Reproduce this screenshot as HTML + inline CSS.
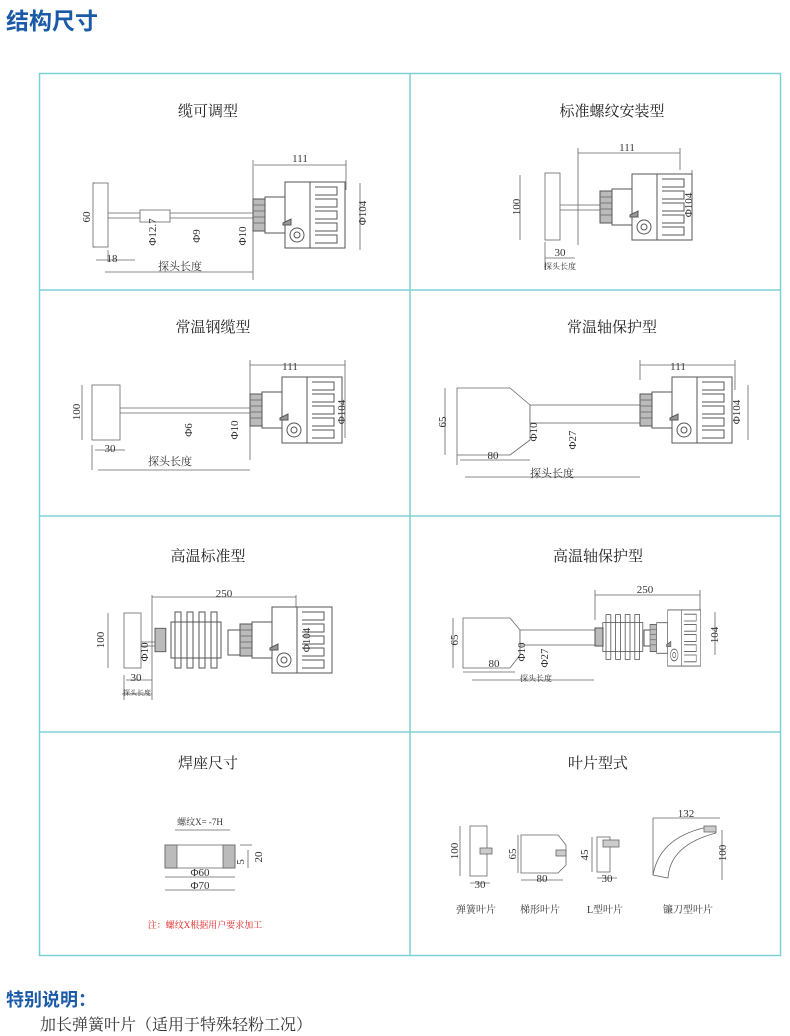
<!DOCTYPE html>
<html><head><meta charset="utf-8"><style>
body{margin:0;background:#fff;width:790px;height:1036px;overflow:hidden;font-family:"Liberation Serif","Noto Serif CJK SC",serif}
svg{position:absolute;left:0;top:0}
.h{position:absolute;font-family:"Liberation Sans","Noto Sans CJK SC",sans-serif;color:#1a5aa6;font-weight:bold}
</style></head><body>
<div class="h" style="left:6px;top:2px;font-size:23px">结构尺寸</div>
<div class="h" style="left:6px;top:986px;font-size:18px">特别说明：</div>
<div style="position:absolute;left:40px;top:1012px;font-size:16px;color:#333;font-family:'Liberation Serif','Noto Serif CJK SC',serif">加长弹簧叶片（适用于特殊轻粉工况）</div>
<svg width="790" height="1036" viewBox="0 0 790 1036">
<defs>
<g id="hs" fill="#fff" stroke="#555" stroke-width="1">
<rect x="0" y="-16" width="12" height="32" fill="#bbb"/>
<path d="M0 -10H12M0 -4H12M0 2H12M0 8H12" stroke="#777"/>
<rect x="12" y="-18" width="20" height="36"/>
<rect x="32" y="-33" width="25" height="66"/>
<rect x="57" y="-33" width="35" height="66"/>
<path d="M62 -28h22v8h-22M62 -16h22v8h-22M62 -4h22v8h-22M62 8h22v8h-22M62 20h22v8h-22" fill="none"/>
<circle cx="44" cy="20" r="7"/><circle cx="44" cy="20" r="3"/>
<path d="M30 8l8 -4v6h-8z" fill="#999"/>
</g>
<g id="fin" fill="#fff" stroke="#555">
<rect x="0" y="-28" width="6" height="56"/><rect x="12" y="-28" width="6" height="56"/><rect x="24" y="-28" width="6" height="56"/><rect x="36" y="-28" width="6" height="56"/>
<rect x="-4" y="-18" width="50" height="36" fill="none"/>
</g>
</defs>
<g fill="none" stroke="#7fd0d6" stroke-width="1.5">
<rect x="39.5" y="73.5" width="741" height="882"/>
<path d="M410 73V955M39 290H781M39 516H781M39 732H781"/>
</g>
<g font-size="15" fill="#222" text-anchor="middle" font-family="'Liberation Serif','Noto Serif CJK SC',serif">
<text x="208" y="116">缆可调型</text><text x="612" y="116">标准螺纹安装型</text>
<text x="213" y="332">常温钢缆型</text><text x="612" y="332">常温轴保护型</text>
<text x="208" y="561">高温标准型</text><text x="598" y="561">高温轴保护型</text>
<text x="208" y="768">焊座尺寸</text><text x="598" y="768">叶片型式</text>
</g>
<g stroke="#666" fill="none" stroke-width="0.8">
<rect x="93" y="183" width="15" height="64" fill="#fff"/>
<path d="M108 213H253M108 218H253"/>
<rect x="140" y="210" width="30" height="12" fill="#fff"/>
<path d="M93 183H95M93 247H95M253 160V280M346 160V190M254 165H346M360 183V250M96 260H135M108 250V262M105 272H253"/>
<rect x="545" y="173" width="15" height="67" fill="#fff"/>
<path d="M560 205H600M560 210H600M578 148V245M680 148V170M578 153H680M692 170V240M545 242V270M545 258H575M520 175V240"/>
<rect x="92" y="385" width="28" height="55" fill="#fff"/>
<path d="M120 408H250M120 413H250M82 385V440M250 360V460M345 360V390M250 365H345M345 383V438M92 445V470M95 450H125M98 470H250"/>
<path d="M457 388H510L530 405V440L510 455H457Z" fill="#fff"/>
<rect x="530" y="405" width="110" height="18" fill="#fff"/>
<path d="M445 388V455M640 360V380M735 360V390M640 365H735M748 385V440M457 455V465M460 460H530M465 477H640"/>
<rect x="124" y="613" width="17" height="55" fill="#fff"/>
<path d="M141 642H155M141 646H155M152 595V700M296 595V620M152 597H296M310 612V668M108 613V668M124 675V700M126 680H152M122 694H152"/>
<path d="M463 618H510L520 630V655L510 668H463Z" fill="#fff"/>
<rect x="520" y="630" width="80" height="15" fill="#fff"/>
<path d="M453 618V668M595 590V620M700 590V612M595 595H700M715 612V655M463 672H515M472 680H594"/>
<path d="M165 845H235V868H165Z" fill="#fff"/>
<rect x="165" y="845" width="12" height="23" fill="#bbb"/><rect x="223" y="845" width="12" height="23" fill="#bbb"/>
<path d="M175 830H230M165 877H235M165 890H235M248 850V868M240 845H252"/>
<rect x="470" y="826" width="17" height="50" fill="#fff"/><rect x="480" y="848" width="12" height="6" fill="#ccc"/>
<path d="M460 826V876M470 883H490"/>
<path d="M521 835H558L566 845V865L558 873H521Z" fill="#fff"/><rect x="556" y="850" width="10" height="6" fill="#ccc"/>
<path d="M518 835V873M521 880H563"/>
<rect x="597" y="837" width="13" height="35" fill="#fff"/><rect x="603" y="840" width="16" height="7" fill="#ccc"/>
<path d="M592 837V872M597 878H617"/>
<path d="M653 875Q660 835 713 826L716 833Q670 845 668 878Z" fill="#fff"/><rect x="704" y="826" width="12" height="6" fill="#ccc"/>
<path d="M653 818H720M653 818V875M722 830V880"/>
</g>
<use href="#hs" x="253" y="215"/>
<use href="#hs" x="600" y="207"/>
<use href="#hs" x="250" y="410"/>
<use href="#hs" x="640" y="410"/>
<g transform="translate(155,640) scale(0.9)"><rect x="0" y="-13" width="12" height="26" fill="#bbb" stroke="#555"/></g>
<use href="#fin" x="175" y="640"/>
<rect x="228" y="630" width="12" height="25" fill="#fff" stroke="#555"/>
<g transform="translate(210,640)"><use href="#hs" x="30" y="0"/></g>
<rect x="595" y="628" width="8" height="18" fill="#bbb" stroke="#555"/>
<g transform="translate(606,637) scale(0.8)"><use href="#fin" x="0" y="0"/></g>
<rect x="644" y="630" width="10" height="16" fill="#fff" stroke="#555"/>
<g transform="translate(650,638) scale(0.55,0.85)"><use href="#hs" x="0" y="0"/></g>
<g font-size="11" fill="#333" text-anchor="middle" font-family="'Liberation Serif','Noto Serif CJK SC',serif">
<text x="300" y="162">111</text><text x="112" y="262">18</text><text x="180" y="270">探头长度</text>
<text x="90" y="217" transform="rotate(-90 90 217)">60</text>
<text x="366" y="213" transform="rotate(-90 366 213)">Φ104</text>
<text x="156" y="232" transform="rotate(-90 156 232)">Φ12.7</text>
<text x="200" y="236" transform="rotate(-90 200 236)">Φ9</text>
<text x="246" y="236" transform="rotate(-90 246 236)">Φ10</text>
<text x="627" y="151">111</text><text x="560" y="256">30</text><text x="560" y="269" font-size="8">探头长度</text>
<text x="520" y="207" transform="rotate(-90 520 207)">100</text><text x="692" y="205" transform="rotate(-90 692 205)">Φ104</text>
<text x="290" y="370">111</text><text x="110" y="452">30</text><text x="170" y="465">探头长度</text>
<text x="80" y="412" transform="rotate(-90 80 412)">100</text><text x="345" y="412" transform="rotate(-90 345 412)">Φ104</text>
<text x="192" y="430" transform="rotate(-90 192 430)">Φ6</text><text x="238" y="430" transform="rotate(-90 238 430)">Φ10</text>
<text x="678" y="370">111</text><text x="493" y="459">80</text><text x="552" y="477">探头长度</text>
<text x="446" y="422" transform="rotate(-90 446 422)">65</text><text x="740" y="412" transform="rotate(-90 740 412)">Φ104</text>
<text x="537" y="432" transform="rotate(-90 537 432)">Φ10</text><text x="576" y="440" transform="rotate(-90 576 440)">Φ27</text>
<text x="224" y="597">250</text><text x="136" y="681">30</text><text x="137" y="695" font-size="7">探头长度</text>
<text x="104" y="640" transform="rotate(-90 104 640)">100</text><text x="310" y="640" transform="rotate(-90 310 640)">Φ104</text>
<text x="148" y="652" transform="rotate(-90 148 652)">Φ10</text>
<text x="645" y="593">250</text><text x="494" y="667">80</text><text x="536" y="681" font-size="8">探头长度</text>
<text x="458" y="640" transform="rotate(-90 458 640)">65</text><text x="718" y="635" transform="rotate(-90 718 635)">104</text>
<text x="525" y="652" transform="rotate(-90 525 652)">Φ10</text><text x="548" y="658" transform="rotate(-90 548 658)">Φ27</text>
<text x="200" y="825" font-size="9">螺纹X=   -7H</text>
<text x="200" y="876">Φ60</text><text x="200" y="889">Φ70</text>
<text x="244" y="862" transform="rotate(-90 244 862)">5</text><text x="262" y="857" transform="rotate(-90 262 857)">20</text>
<text x="205" y="928" font-size="9" fill="#e02020">注：螺纹X根据用户要求加工</text>
<text x="458" y="851" transform="rotate(-90 458 851)">100</text><text x="480" y="888">30</text>
<text x="516" y="854" transform="rotate(-90 516 854)">65</text><text x="542" y="882">80</text>
<text x="588" y="855" transform="rotate(-90 588 855)">45</text><text x="607" y="882">30</text>
<text x="686" y="817">132</text><text x="726" y="853" transform="rotate(-90 726 853)">100</text>
<text x="476" y="913" font-size="10">弹簧叶片</text><text x="540" y="913" font-size="10">梯形叶片</text>
<text x="605" y="913" font-size="10">L型叶片</text><text x="688" y="913" font-size="10">镰刀型叶片</text>
</g>
</svg>
</body></html>
